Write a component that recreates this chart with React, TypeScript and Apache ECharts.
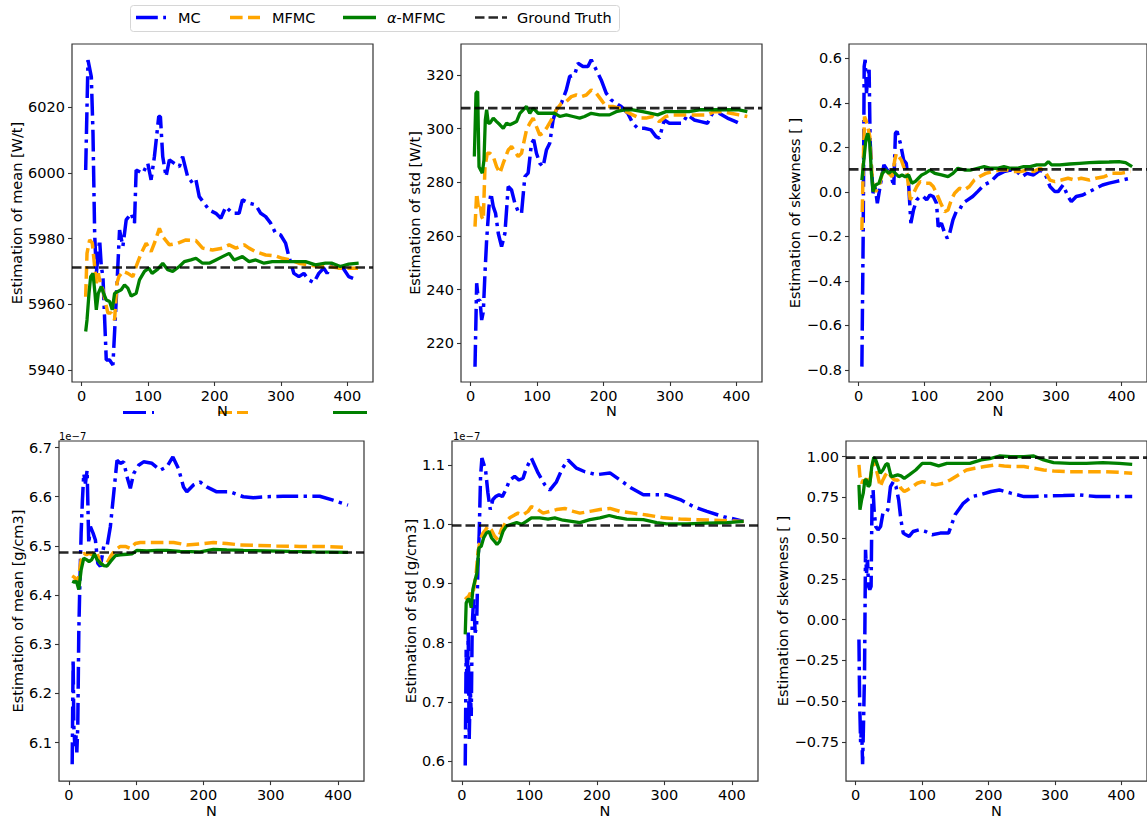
import React, { useEffect, useRef } from "react";
import * as echarts from "echarts";

// ---------- data ----------
const X_MIN = -14.6;
const X_MAX = 438.6;
const xTicks = [0, 100, 200, 300, 400];

// Panel 1: mean [W/t]
const meanWtMC = [[6,6000.9],[9.5,6034.4],[14.5,6029.3],[17,6012.1],[19.5,5981.6],[22,5969.4],[27,5979.6],[29.5,5971.5],[32,5968.4],[37,5943.0],[42,5943.0],[47,5941.5],[52,5961.3],[57,5982.6],[62,5977.6],[67,5985.7],[74.5,5987.7],[79.5,5984.7],[82,6000.9],[92,5999.9],[99.5,6002.9],[104.5,5997.9],[109.5,6005],[116,6017.2],[118.5,6017.2],[122,6005],[127,5998.9],[132,6004],[139.5,6002.9],[147,6001.9],[152,6005],[159.5,5998.9],[167,5996.9],[172,5997.9],[177,5992.8],[184.5,5990.8],[192,5988.7],[202,5987.7],[209.5,5986.2],[217,5989.7],[227,5987.7],[237,5987.7],[242,5991.8],[252,5990.8],[262,5990.3],[269.5,5987.7],[277,5986.7],[284.5,5984.7],[292,5981.6],[299.5,5981.1],[307,5978.6],[312,5974.5],[319.5,5969.4],[327,5968.4],[334.5,5969.4],[342,5967.4],[349.5,5966.6],[357,5969.4],[364.5,5971.0],[369.5,5969.4],[377,5972.0],[384.5,5971.0],[392,5971.5],[402,5968.4],[414.5,5967.4]];
const meanWtMFMC = [[6,5962.3],[8,5975.5],[12,5979.6],[16,5978.6],[19.5,5971.5],[22,5966.4],[25,5969.4],[28,5966.4],[32,5964.4],[36,5960.3],[39.5,5957.3],[44.5,5957.3],[49.5,5955.2],[53,5966.4],[56,5968.4],[62,5970.0],[69.5,5969.4],[77,5968.4],[82,5971.5],[89.5,5975.5],[97,5978.6],[104.5,5976.0],[109.5,5978.6],[117,5983.1],[122,5980.6],[132,5978.1],[144.5,5978.6],[157,5979.6],[172,5979.4],[182,5977.1],[197,5976.5],[212,5977.1],[222,5978.1],[232,5977.1],[244.5,5978.1],[252,5977.1],[262,5976.0],[277,5975.0],[292,5974.7],[302,5974.0],[314.5,5973.5],[327,5972.5],[342,5972.0],[357,5971.5],[372,5971.5],[387,5971.0],[402,5971.0],[416,5971.0]];
const meanWtAlpha = [[6,5951.7],[8,5955.2],[11,5963.3],[13.5,5968.4],[17,5969.4],[20,5963.3],[22,5958.3],[25,5963.3],[29.5,5965.4],[33,5963.3],[37,5961.3],[42,5960.8],[46,5958.3],[49.5,5963.3],[54.5,5963.9],[59.5,5964.4],[64.5,5965.9],[69.5,5964.9],[74.5,5962.5],[82,5963.3],[87,5967.4],[94.5,5970.0],[101,5971.0],[106,5969.4],[114.5,5970.7],[122,5972.5],[129.5,5970.5],[137,5970.0],[147,5971.5],[154.5,5973.0],[164.5,5973.5],[172,5974.0],[182,5972.5],[192,5972.5],[202,5973.5],[212,5974.5],[222,5975.5],[229.5,5973.5],[242,5974.5],[252,5973.0],[262,5973.5],[274.5,5972.5],[287,5973.0],[302,5973.0],[317,5973.0],[337,5973.0],[352,5972.0],[367,5972.5],[377,5972.5],[389.5,5971.5],[402,5972.2],[417,5972.5]];

// Panel 2: std [W/t]
const stdWtMC = [[6.5,211.3],[9,242.4],[11.5,236.1],[14,236.0],[16.5,228.7],[19,231.8],[21.5,246.1],[24,258.5],[27.5,270.9],[30.5,275.9],[34,270.9],[37.5,268.4],[41.5,261.0],[46.5,256.0],[51.5,261.0],[56.5,278.4],[61.5,277.1],[66.5,272.2],[71.5,269.1],[76.5,268.4],[81.5,282.1],[86.5,283.4],[91.5,294.5],[95,295.8],[99,290.8],[104,287.1],[109,285.8],[114,292.0],[119,294.5],[124,303.2],[129,307.0],[136.5,309.4],[144,314.4],[149,319.4],[156.5,320.0],[161.5,324.3],[169,323.1],[176.5,323.1],[181.5,325.6],[189,321.9],[196.5,318.1],[204,313.2],[211.5,310.7],[219,309.4],[226.5,308.2],[236.5,305.7],[244,302.0],[251.5,300.1],[261.5,300.1],[271.5,299.5],[279,297.0],[284,296.4],[291.5,303.2],[299,302.0],[309,302.0],[319,302.0],[326.5,305.1],[336.5,303.2],[346.5,302.6],[356.5,302.0],[364,305.7],[374,305.7],[386.5,303.9],[399,302.6],[409,301.4]];
const stdWtMFMC = [[6.5,263.5],[9,275.9],[11.5,270.9],[14,272.2],[16.5,267.2],[19,266.0],[21.5,285.8],[25,290.8],[29,290.8],[34,289.6],[39,285.8],[44,283.4],[49,287.1],[56.5,292.0],[61.5,293.3],[66.5,291.4],[71.5,289.6],[76.5,290.8],[84,299.5],[89,302.0],[94,303.9],[99,300.7],[104,297.6],[109,298.3],[114,300.1],[121.5,303.2],[129,307.0],[136.5,309.4],[144,310.1],[151.5,311.9],[159,312.5],[166.5,311.9],[174,312.5],[181.5,314.4],[189,313.2],[196.5,310.7],[204,308.2],[214,308.2],[224,307.6],[234,306.3],[244,305.1],[254,303.9],[264,303.9],[274,304.5],[284,302.6],[294,304.5],[304,305.1],[314,305.1],[324,305.1],[336.5,305.1],[346.5,305.1],[356.5,305.1],[366.5,306.3],[379,306.3],[391.5,305.7],[404,305.1],[416.5,304.5]];
const stdWtAlpha = [[5.5,289.6],[8,313.2],[10.5,313.8],[12.5,285.8],[15,284.6],[17.5,283.4],[20,288.3],[22,303.2],[24,307.0],[26.5,302.0],[29,302.0],[34,303.9],[39,302.6],[44,301.4],[49,300.1],[54,302.0],[59,301.4],[64,302.0],[69,302.6],[74,305.7],[79,307.0],[84,308.2],[89,305.7],[94,307.6],[101.5,305.7],[114,305.7],[126.5,305.7],[134,304.5],[144,305.1],[154,304.5],[164,303.9],[171.5,304.5],[181.5,305.7],[194,305.1],[209,305.1],[219,306.3],[231.5,307.0],[244,307.0],[259,306.3],[271.5,305.7],[281.5,305.1],[294,306.3],[309,306.3],[329,306.3],[344,307.0],[364,307.0],[384,307.0],[404,307.0],[416.5,306.3]];

// Panel 3: skewness (W/t)
const skewWtMC = [[5,-0.785],[7,-0.186],[8.5,0.563],[10,0.593],[12,0.443],[14,0.518],[16,0.548],[17.5,0.233],[19.5,0.113],[22,-0.006],[25,0.024],[28.5,-0.051],[33.5,0.039],[38.5,0.121],[43.5,0.098],[48.5,0.083],[53.5,0.024],[56,0.263],[58.5,0.271],[63.5,0.218],[68.5,0.143],[72.5,0.128],[76,0.039],[79.5,-0.141],[83.5,-0.081],[88.5,-0.036],[93.5,-0.021],[98.5,-0.021],[103.5,-0.036],[108.5,-0.014],[113.5,-0.021],[118.5,-0.051],[121,-0.156],[126,-0.141],[131,-0.186],[135,-0.209],[138.5,-0.186],[143.5,-0.126],[148.5,-0.089],[153.5,-0.081],[158.5,-0.051],[166,-0.036],[173.5,-0.021],[181,0.001],[191,0.031],[201,0.046],[211,0.076],[221,0.091],[231,0.098],[241,0.091],[248.5,0.068],[256,0.083],[266,0.076],[276,0.098],[283.5,0.083],[291,0.024],[298.5,0.001],[303.5,0.001],[311,0.031],[318.5,-0.021],[323.5,-0.044],[331,-0.021],[341,-0.014],[351,0.001],[361,0.016],[371,0.031],[381,0.039],[391,0.046],[401,0.053],[413.5,0.061]];
const skewWtMFMC = [[5,-0.171],[7,0.113],[9,0.338],[11,0.323],[14,0.293],[17,0.248],[19.5,0.113],[22,0.024],[26,0.001],[31,0.024],[36,0.083],[41,0.098],[46,0.083],[51,0.068],[55,0.143],[57.5,0.173],[61,0.158],[65,0.143],[68.5,0.113],[73.5,0.083],[78.5,-0.036],[83.5,-0.006],[88.5,0.024],[93.5,0.046],[101,0.039],[108.5,0.039],[113.5,0.024],[118.5,-0.006],[125,-0.051],[131,-0.089],[136,-0.081],[141,-0.036],[146,-0.006],[153.5,0.016],[161,0.009],[168.5,0.024],[176,0.053],[183.5,0.068],[193.5,0.083],[203.5,0.091],[213.5,0.098],[226,0.098],[236,0.091],[246,0.091],[256,0.098],[266,0.091],[276,0.106],[283.5,0.091],[291,0.053],[298.5,0.046],[308.5,0.053],[318.5,0.061],[328.5,0.053],[338.5,0.061],[351,0.053],[361,0.061],[373.5,0.068],[386,0.083],[398.5,0.083],[413.5,0.091]];
const skewWtAlpha = [[5,0.053],[8,0.143],[11,0.233],[14,0.263],[17,0.218],[19.5,0.083],[22,0.001],[26,0.031],[31,0.039],[36,0.083],[41,0.098],[46,0.083],[51,0.098],[56,0.083],[61,0.068],[66,0.076],[71,0.068],[76,0.076],[81,0.039],[86,0.046],[91,0.061],[96,0.076],[101,0.083],[108.5,0.098],[116,0.083],[126,0.076],[136,0.068],[143.5,0.083],[151,0.106],[161,0.098],[171,0.098],[181,0.106],[191,0.113],[201,0.106],[211,0.106],[221,0.113],[231,0.106],[241,0.106],[251,0.113],[261,0.113],[271,0.121],[283.5,0.121],[288.5,0.136],[293.5,0.121],[306,0.121],[321,0.125],[336,0.128],[351,0.131],[366,0.133],[381,0.134],[396,0.136],[406,0.131],[416,0.113]];

// Panel 4: mean [g/cm3] (x 1e-7)
const meanGcMC = [[5,6.056],[6.4,6.269],[7.4,6.134],[8.9,6.093],[10.4,6.120],[11.9,6.080],[13.3,6.134],[14.8,6.323],[16.3,6.418],[18.3,6.526],[20.2,6.593],[22.2,6.647],[24.7,6.627],[27.2,6.654],[29.6,6.505],[32.1,6.539],[36,6.526],[39.5,6.512],[43,6.465],[46.9,6.458],[51.9,6.499],[56.8,6.499],[61.7,6.539],[66.7,6.607],[71.6,6.674],[76.5,6.668],[81.5,6.671],[86.4,6.641],[91.4,6.617],[96.3,6.647],[103.7,6.664],[111.1,6.671],[123.5,6.668],[135.8,6.654],[145.7,6.661],[154.6,6.681],[163,6.657],[170.4,6.620],[175.3,6.610],[185.2,6.624],[195.1,6.630],[204.9,6.620],[219.8,6.610],[239.5,6.610],[259.3,6.600],[274.1,6.598],[293.8,6.600],[318.5,6.601],[343.2,6.601],[372.8,6.601],[392.6,6.593],[414.8,6.583]];
const meanGcMFMC = [[5,6.439],[8.4,6.436],[11.4,6.428],[14.8,6.438],[18.3,6.472],[22.2,6.485],[26.2,6.482],[30.1,6.485],[34.1,6.482],[38,6.489],[42,6.485],[46.9,6.465],[51.9,6.461],[56.8,6.465],[61.7,6.478],[69.1,6.492],[76.5,6.499],[84,6.499],[91.4,6.495],[98.8,6.505],[106.2,6.507],[121,6.507],[135.8,6.507],[155.6,6.507],[175.3,6.502],[195.1,6.504],[214.8,6.507],[234.6,6.505],[254.3,6.502],[279,6.501],[308.6,6.500],[343.2,6.499],[372.8,6.499],[414.8,6.497]];
const meanGcAlpha = [[5,6.428],[8.4,6.426],[11.4,6.428],[14.8,6.411],[18.3,6.451],[22.2,6.475],[26.2,6.472],[30.1,6.468],[34.1,6.472],[38,6.484],[42,6.472],[46.9,6.465],[51.9,6.460],[56.8,6.459],[61.7,6.468],[69.1,6.480],[76.5,6.482],[86.4,6.483],[93.8,6.484],[101.2,6.491],[116,6.490],[130.9,6.491],[145.7,6.491],[165.4,6.489],[195.1,6.488],[214.8,6.493],[234.6,6.492],[259.3,6.491],[293.8,6.490],[328.4,6.489],[367.3,6.488],[414.8,6.487]];

// Panel 5: std [g/cm3] (x 1e-7)
const stdGcMC = [[5,0.592],[6.4,0.788],[7.9,0.715],[9.4,0.817],[10.9,0.637],[12.4,0.727],[13.9,0.676],[15.3,0.828],[17.3,0.873],[19.8,0.817],[21.8,0.828],[23.8,0.929],[25.7,0.985],[27.7,1.081],[29.7,1.112],[32.2,1.103],[35.1,1.092],[38.6,1.053],[42.1,1.025],[46,1.042],[50,1.047],[55,1.050],[59.9,1.047],[64.9,1.058],[70.8,1.075],[78.2,1.081],[84.7,1.075],[90.6,1.078],[95.5,1.095],[103,1.112],[112.9,1.087],[122.8,1.067],[130.2,1.058],[140.1,1.072],[149,1.095],[157.4,1.109],[169.8,1.095],[182.2,1.089],[199.5,1.084],[219.3,1.087],[234.2,1.075],[251.5,1.061],[268.8,1.050],[288.6,1.050],[303.5,1.050],[323.3,1.042],[343.1,1.030],[362.9,1.022],[387.6,1.013],[407.4,1.008],[417.3,1.005]];
const stdGcMFMC = [[5,0.873],[7.4,0.876],[9.9,0.878],[12.4,0.884],[15.3,0.878],[18.3,0.895],[21.3,0.918],[23.8,0.952],[27.2,0.974],[31.2,0.985],[35.1,0.991],[38.6,0.997],[43.6,0.991],[48.5,0.980],[53.5,0.974],[58.4,0.991],[64.4,1.002],[70.8,1.011],[78.2,1.016],[83.2,1.019],[90.6,1.016],[98,1.022],[103,1.030],[110.4,1.027],[120.3,1.019],[130.2,1.022],[140.1,1.025],[152.5,1.027],[164.9,1.022],[174.8,1.019],[189.6,1.022],[204.5,1.025],[219.3,1.027],[234.2,1.022],[254,1.019],[273.8,1.016],[298.5,1.011],[323.3,1.009],[348,1.008],[372.8,1.007],[397.5,1.006],[417.3,1.005]];
const stdGcAlpha = [[5,0.814],[6.4,0.867],[8.9,0.873],[11.4,0.873],[13.9,0.859],[16.3,0.890],[19.8,0.907],[22.3,0.918],[25.2,0.960],[28.7,0.963],[32.2,0.977],[36.1,0.985],[40.1,0.988],[44,0.977],[48.5,0.971],[52,0.966],[55.9,0.971],[60.9,0.988],[65.8,0.997],[73.3,1.000],[81.2,1.003],[88.6,1.000],[95.5,1.005],[103,1.011],[115.3,1.011],[127.7,1.009],[137.6,1.011],[150,1.007],[162.4,1.005],[174.8,1.003],[189.6,1.008],[204.5,1.011],[218.3,1.015],[229.2,1.012],[244.1,1.009],[268.8,1.008],[288.6,1.003],[303.5,1.001],[333.2,1.001],[362.9,1.002],[392.6,1.003],[417.3,1.005]];

// Panel 6: skewness (g/cm3)
const skewGcMC = [[4.9,-0.122],[5.9,-0.489],[7.4,-0.754],[8.9,-0.652],[10.4,-0.887],[11.9,-0.611],[13.3,-0.326],[14.8,0.429],[16.3,0.286],[17.8,0.368],[19.3,0.205],[21.2,0.184],[23.2,0.205],[24.7,0.776],[26.2,0.796],[27.7,0.674],[30.1,0.572],[33.6,0.551],[37.5,0.572],[41,0.653],[44.9,0.653],[48.4,0.674],[52.3,0.816],[56.8,0.847],[60.7,0.816],[64.7,0.735],[68.1,0.612],[71.6,0.531],[75.6,0.521],[80.5,0.511],[86.4,0.541],[95.3,0.551],[105.2,0.541],[115.1,0.521],[127.4,0.531],[139.8,0.531],[149.6,0.643],[162,0.714],[174.3,0.755],[186.7,0.765],[204,0.786],[216.3,0.796],[233.6,0.776],[253.3,0.755],[268.1,0.755],[287.9,0.759],[312.6,0.761],[337.3,0.765],[362,0.755],[386.7,0.755],[416.3,0.755]];
const skewGcMFMC = [[4.9,0.949],[6.4,0.878],[8.9,0.837],[11.4,0.857],[13.8,0.847],[16.3,0.867],[18.8,0.827],[21.2,0.847],[24.2,0.918],[27.2,0.980],[30.1,0.939],[33.6,0.878],[37,0.816],[41,0.857],[44.9,0.888],[48.4,0.908],[53.3,0.878],[58.3,0.857],[63.2,0.857],[68.1,0.806],[73.1,0.786],[78,0.796],[85.4,0.816],[92.8,0.837],[100.2,0.847],[110.1,0.837],[120,0.827],[132.3,0.837],[142.2,0.857],[154.6,0.888],[166.9,0.918],[179.3,0.929],[194.1,0.939],[208.9,0.949],[223.7,0.943],[238.5,0.939],[253.3,0.939],[268.1,0.929],[282.9,0.918],[297.8,0.912],[322.5,0.908],[347.2,0.908],[371.9,0.908],[396.5,0.904],[416.3,0.898]];
const skewGcAlpha = [[4.9,0.827],[6.4,0.674],[8.9,0.735],[11.4,0.776],[13.8,0.857],[16.3,0.857],[18.8,0.816],[21.2,0.827],[24.2,0.939],[27.2,0.996],[30.1,0.980],[33.6,0.939],[37,0.898],[41,0.918],[44.9,0.949],[48.4,0.959],[53.3,0.878],[58.3,0.882],[63.2,0.888],[68.1,0.882],[73.1,0.867],[80.5,0.888],[90.4,0.918],[100.2,0.959],[112.6,0.959],[124.9,0.943],[137.3,0.959],[154.6,0.959],[171.9,0.959],[189.1,0.980],[204,0.990],[216.3,1.004],[233.6,1.000],[253.3,1.000],[268.1,1.004],[282.9,0.980],[297.8,0.963],[322.5,0.959],[347.2,0.959],[371.9,0.963],[396.5,0.959],[416.3,0.953]];

const groundTruth = [5971.2, 307.6, 0.101, 6.4865, 0.998, 0.994];

const yTicks1 = [5940, 5960, 5980, 6000, 6020];
const yTicks2 = [220, 240, 260, 280, 300, 320];
const yTicks3 = [-0.8, -0.6, -0.4, -0.2, 0.0, 0.2, 0.4, 0.6];
const yTicks4 = [6.1, 6.2, 6.3, 6.4, 6.5, 6.6, 6.7];
const yTicks5 = [0.6, 0.7, 0.8, 0.9, 1.0, 1.1];
const yTicks6 = [-0.75, -0.5, -0.25, 0.0, 0.25, 0.5, 0.75, 1.0];

const yNames = [
  "Estimation of mean [W/t]",
  "Estimation of std [W/t]",
  "Estimation of skewness [ ]",
  "Estimation of mean [g/cm3]",
  "Estimation of std [g/cm3]",
  "Estimation of skewness [ ]",
];
const seriesNames = ["MC", "MFMC", "α-MFMC", "Ground Truth"];

// ---------- layout ----------
const FONT = "DejaVu Sans";
const FS = 14.5;
const panels = [
  { grid: { left: 72, top: 44, width: 301, height: 338 }, min: 5936.3, max: 6039.3, ticks: yTicks1, dec: 0, gap: 48, mc: meanWtMC, mf: meanWtMFMC, al: meanWtAlpha },
  { grid: { left: 461, top: 44, width: 301, height: 338 }, min: 205.6, max: 331.5, ticks: yTicks2, dec: 0, gap: 38, mc: stdWtMC, mf: stdWtMFMC, al: stdWtAlpha },
  { grid: { left: 849, top: 44, width: 303, height: 338 }, min: -0.854, max: 0.664, ticks: yTicks3, dec: 1, gap: 46, mc: skewWtMC, mf: skewWtMFMC, al: skewWtAlpha },
  { grid: { left: 59, top: 441, width: 305, height: 341 }, min: 6.0216, max: 6.7134, ticks: yTicks4, dec: 1, gap: 34, mc: meanGcMC, mf: meanGcMFMC, al: meanGcAlpha },
  { grid: { left: 452, top: 441, width: 306, height: 341 }, min: 0.5658, max: 1.141, ticks: yTicks5, dec: 1, gap: 34, mc: stdGcMC, mf: stdGcMFMC, al: stdGcAlpha },
  { grid: { left: 846, top: 441, width: 306, height: 341 }, min: -0.99, max: 1.096, ticks: yTicks6, dec: 2, gap: 56, mc: skewGcMC, mf: skewGcMFMC, al: skewGcAlpha },
];

const BLUE = "#0000ff";
const ORANGE = "#ffa500";
const GREEN = "#008000";
const GT = "rgba(0,0,0,0.85)";
const DASHDOT = [21.8, 5.4, 3.4, 5.4];
const DASH = [12.6, 5.4];
const GTDASH = [9.5, 4];

const fmt = (v: number, d: number) => v.toFixed(d).replace("-", "\u2212");

function buildOption() {
  const grid: any[] = [];
  const xAxis: any[] = [];
  const yAxis: any[] = [];
  const series: any[] = [];
  panels.forEach((p, i) => {
    grid.push({ ...p.grid, show: true, borderColor: "#333", borderWidth: 1.2, backgroundColor: "transparent" });
    xAxis.push({
      type: "value", gridIndex: i, min: X_MIN, max: X_MAX,
      name: "N", nameLocation: "middle", nameGap: 21,
      nameTextStyle: { fontFamily: FONT, fontSize: FS, color: "#000" },
      axisLine: { show: false, onZero: false },
      axisTick: { show: true, length: 4, customValues: xTicks, lineStyle: { color: "#333", width: 1.1 } },
      axisLabel: { customValues: xTicks, fontFamily: FONT, fontSize: FS, color: "#000", margin: 6 },
      splitLine: { show: false },
    });
    yAxis.push({
      type: "value", gridIndex: i, min: p.min, max: p.max,
      name: yNames[i], nameLocation: "middle", nameGap: p.gap, nameRotate: 90,
      nameTextStyle: { fontFamily: FONT, fontSize: FS, color: "#000" },
      axisLine: { show: false, onZero: false },
      axisTick: { show: true, length: 4, customValues: p.ticks, lineStyle: { color: "#333", width: 1.1 } },
      axisLabel: { customValues: p.ticks, fontFamily: FONT, fontSize: FS, color: "#000", margin: 7, formatter: (v: number) => fmt(v, p.dec) },
      splitLine: { show: false },
    });
    const base = { type: "line", xAxisIndex: i, yAxisIndex: i, showSymbol: false, symbol: "none", smooth: false, clip: true };
    series.push({ ...base, name: seriesNames[0], data: p.mc, lineStyle: { color: BLUE, width: 3.5, type: DASHDOT } });
    series.push({ ...base, name: seriesNames[1], data: p.mf, lineStyle: { color: ORANGE, width: 3.5, type: DASH } });
    series.push({ ...base, name: seriesNames[2], data: p.al, lineStyle: { color: GREEN, width: 3.3, type: "solid" } });
    series.push({ ...base, name: seriesNames[3], data: [[X_MIN, groundTruth[i]], [X_MAX, groundTruth[i]]], lineStyle: { color: GT, width: 2.6, type: GTDASH } });
  });

  const ly = 17.5;
  const legendText = (x: number, text: string) => ({
    type: "text", x, y: ly,
    style: { text, fontFamily: FONT, fontSize: FS, fill: "#000", verticalAlign: "middle", align: "left" },
  });
  const seg = (x1: number, x2: number, y: number, color: string, width: number, dash: any) => ({
    type: "line", shape: { x1, y1: y, x2, y2: y },
    style: { stroke: color, lineWidth: width, lineDash: dash },
  });

  const graphic: any[] = [
    { type: "rect", shape: { x: 130.5, y: 5.5, width: 489, height: 26, r: 3 }, style: { fill: "#fff", stroke: "#d6d6d6", lineWidth: 1 } },
    seg(136, 166, ly, BLUE, 3.5, DASHDOT),
    legendText(178, "MC"),
    seg(230, 260, ly, ORANGE, 3.5, DASH),
    legendText(272, "MFMC"),
    seg(343, 376, ly, GREEN, 3.3, null),
    {
      type: "text", x: 387, y: ly,
      style: {
        text: "{a|α}-MFMC", fontFamily: FONT, fontSize: FS, fill: "#000", verticalAlign: "middle", align: "left",
        rich: { a: { fontFamily: FONT, fontStyle: "italic", fontSize: FS, fill: "#000" } },
      },
    },
    seg(475, 507, ly, GT, 2.6, GTDASH),
    legendText(517, "Ground Truth"),
    // stray handle segments below the first panel
    seg(123, 154, 412.5, BLUE, 3, [23, 6, 2, 6]),
    seg(218, 248, 412.5, ORANGE, 3, [14, 5]),
    seg(333, 367, 412.5, GREEN, 3, null),
    { type: "text", x: 59, y: 436, style: { text: "1e\u22127", fontFamily: FONT, fontSize: 10, fill: "#000", verticalAlign: "middle", align: "left" } },
    { type: "text", x: 453, y: 436, style: { text: "1e\u22127", fontFamily: FONT, fontSize: 10, fill: "#000", verticalAlign: "middle", align: "left" } },
  ];

  return {
    animation: false,
    backgroundColor: "#fff",
    textStyle: { fontFamily: FONT },
    grid, xAxis, yAxis, series, graphic,
  };
}

export default function App() {
  const ref = useRef<HTMLDivElement>(null);
  useEffect(() => {
    if (!ref.current) return;
    const chart = echarts.init(ref.current, undefined, { renderer: "svg" });
    chart.setOption(buildOption() as any);
    return () => chart.dispose();
  }, []);
  return <div ref={ref} style={{ position: "fixed", left: 0, top: 0, width: 1147, height: 819 }} />;
}
